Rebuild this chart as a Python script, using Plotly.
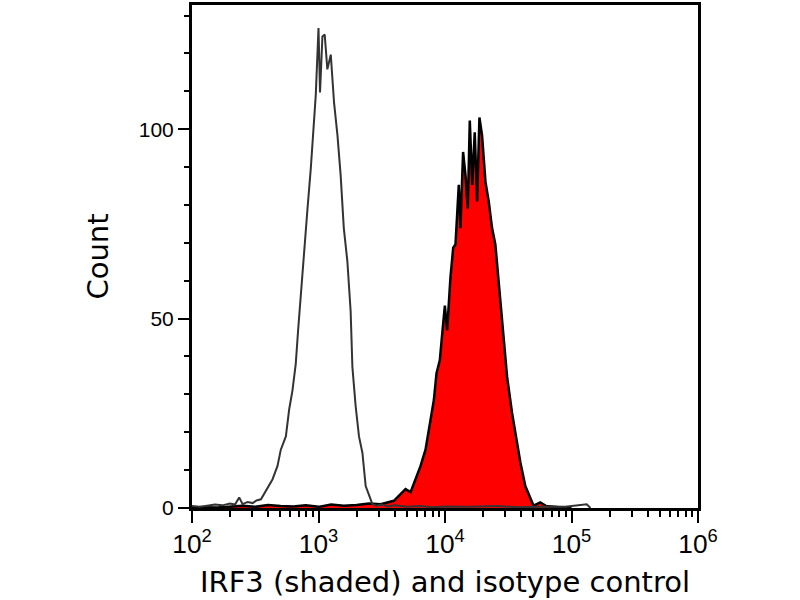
import plotly.graph_objects as go

# isotype control (open curve), x as log10 of fluorescence
iso_log = [2.00, 2.06, 2.12, 2.18, 2.24, 2.30, 2.34, 2.373, 2.40, 2.44, 2.48, 2.51,
           2.545, 2.584, 2.637, 2.676, 2.702, 2.742, 2.768, 2.794, 2.82, 2.839,
           2.86, 2.886, 2.913, 2.939, 2.965, 2.978, 3.0, 3.012, 3.031, 3.049,
           3.07, 3.097, 3.123, 3.15, 3.175, 3.20, 3.228, 3.254, 3.268, 3.294,
           3.32, 3.347, 3.373, 3.40, 3.426, 3.46, 3.50, 3.55, 3.60, 3.70, 3.80,
           3.90, 4.00, 4.20, 4.40, 4.60, 4.80, 4.95, 5.05, 5.12, 5.15]
iso_count = [0.5, 0.3, 0.6, 0.9, 0.7, 1.2, 0.9, 2.8, 1.0, 1.6, 1.3, 2.0,
             2.3, 4.5, 7.6, 11.1, 15.4, 18.9, 26.0, 31.0, 38.0, 47.0,
             56.5, 68.7, 79.0, 89.6, 102.7, 108.8, 126.7, 109.7, 124.5, 125.0,
             115.8, 119.7, 107.0, 98.4, 87.9, 73.9, 65.2, 52.0, 37.2, 26.8,
             18.9, 14.6, 5.8, 3.2, 1.0, 0.6, 0.9, 0.4, 0.7, 0.3, 0.5,
             0.2, 0.4, 0.3, 0.5, 0.2, 0.4, 0.3, 0.8, 1.0, 0.0]

# IRF3 stained (shaded curve)
irf_log = [2.00, 2.10, 2.20, 2.30, 2.40, 2.50, 2.60, 2.70, 2.80, 2.90, 3.00, 3.10,
           3.20, 3.30, 3.40, 3.491, 3.596, 3.688, 3.728, 3.767, 3.807, 3.846,
           3.886, 3.912, 3.933, 3.959, 3.978, 3.999, 4.017, 4.043, 4.065, 4.083,
           4.109, 4.122, 4.143, 4.162, 4.18, 4.196, 4.215, 4.235, 4.254, 4.272,
           4.293, 4.32, 4.346, 4.372, 4.398, 4.425, 4.443, 4.464, 4.491, 4.53,
           4.556, 4.596, 4.635, 4.675, 4.70, 4.753, 4.80, 4.90, 5.00]
irf_count = [0.0, 0.2, 0.1, 0.4, 0.6, 0.3, 0.8, 0.5, 0.4, 0.7, 0.3, 0.9,
             0.6, 0.8, 1.2, 1.0, 1.9, 5.0, 4.2, 7.6, 11.1, 15.4,
             23.3, 28.5, 35.6, 39.0, 46.0, 53.4, 46.9, 60.8, 68.7, 69.6,
             85.3, 73.9, 94.0, 87.9, 79.0, 102.3, 85.3, 99.2, 80.9, 103.1,
             98.4, 86.1, 80.9, 73.9, 69.6, 59.9, 53.0, 46.0, 34.6, 25.1,
             19.9, 12.0, 5.8, 2.4, 0.6, 1.5, 0.5, 0.2, 0.0]

fig = go.Figure()

fig.add_trace(go.Scatter(
    x=[10 ** v for v in irf_log], y=irf_count, mode="lines",
    fill="tozeroy", fillcolor="#ff0000",
    line=dict(color="black", width=2.5), showlegend=False))

fig.add_trace(go.Scatter(
    x=[10 ** v for v in iso_log], y=iso_count, mode="lines",
    line=dict(color="#333333", width=2), showlegend=False))

fig.update_layout(
    width=800, height=600,
    margin=dict(l=192, r=102, t=2, b=92),
    plot_bgcolor="white", paper_bgcolor="white",
    font=dict(family="Liberation Sans, Arial", color="black"),
)

fig.update_xaxes(
    type="log", range=[2, 6], dtick=1, exponentformat="power",
    showgrid=False, zeroline=False,
    showline=True, linecolor="black", linewidth=3, mirror=True,
    ticks="outside", ticklen=12, tickwidth=2, tickcolor="black",
    tickfont=dict(size=21),
    minor=dict(ticks="outside", ticklen=6, tickwidth=2, tickcolor="black",
               dtick="D1", showgrid=False),
    title=dict(text="IRF3 (shaded) and isotype control",
               font=dict(family="DejaVu Sans", size=29), standoff=14),
)

fig.update_yaxes(
    range=[0, 132.8], dtick=50,
    showgrid=False, zeroline=False,
    showline=True, linecolor="black", linewidth=3, mirror=True,
    ticks="outside", ticklen=11, tickwidth=2, tickcolor="black",
    tickfont=dict(size=21),
    minor=dict(ticks="outside", ticklen=5, tickwidth=2, tickcolor="black",
               dtick=10, showgrid=False),
    title=dict(text="Count", font=dict(family="DejaVu Sans", size=29), standoff=22),
)

# page body has a default 8px margin; drop it so the figure sits at 0,0
fig.write_html("out.html", config={"displayModeBar": False},
               post_script="document.body.style.margin='0px';")
